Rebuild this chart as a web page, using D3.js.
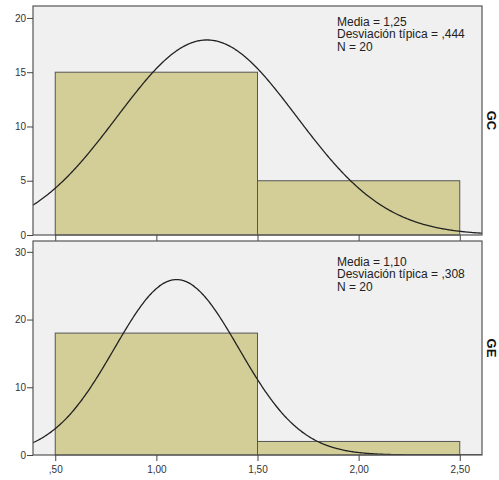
<!DOCTYPE html>
<html>
<head>
<meta charset="utf-8">
<title>Histogramas GC / GE</title>
<script src="https://cdn.jsdelivr.net/npm/d3@7"></script>
<style>
  body { margin: 0; background: #fff; }
  text { font-family: "Liberation Sans", Arial, sans-serif; }
</style>
</head>
<body>
<script>
// bins (lower, upper edges) and counts per group
var binEdges = [[0.5, 1.5], [1.5, 2.5]];
var groups = ["GC", "GE"];
var countsGC = [15, 5];
var countsGE = [18, 2];
var means = [1.25, 1.10];
var sds = [0.444, 0.308];
var ns = [20, 20];
var statLabels = [
  ["Media = 1,25", "Desviación típica = ,444", "N = 20"],
  ["Media = 1,10", "Desviación típica = ,308", "N = 20"]
];
var yTicksGC = [0, 5, 10, 15, 20];
var yTicksGE = [0, 10, 20, 30];
var xTicks = [0.5, 1.0, 1.5, 2.0, 2.5];
var xTickLabels = [",50", "1,00", "1,50", "2,00", "2,50"];

var W = 499, H = 480;
var left = 33, right = 482;
var panels = [
  { top: 6, bottom: 235, ymax: 21.1, counts: countsGC, ticks: yTicksGC, textY: 25.5 },
  { top: 241, bottom: 455, ymax: 31.6, counts: countsGE, ticks: yTicksGE, textY: 265.5 }
];

var svg = d3.select("body").append("svg")
  .attr("width", W).attr("height", H);

var x = d3.scaleLinear().domain([0.39, 2.61]).range([left, right]);

panels.forEach(function(p, i) {
  var y = d3.scaleLinear().domain([0, p.ymax]).range([p.bottom, p.top]);
  var g = svg.append("g");

  g.append("clipPath").attr("id", "clip" + i)
    .append("rect")
    .attr("x", left).attr("y", p.top)
    .attr("width", right - left).attr("height", p.bottom - p.top);

  g.append("rect")
    .attr("x", left).attr("y", p.top)
    .attr("width", right - left).attr("height", p.bottom - p.top)
    .attr("fill", "#f0f0f0");

  g.selectAll("rect.bar")
    .data(p.counts)
    .enter().append("rect")
    .attr("class", "bar")
    .attr("x", function(d, j) { return x(binEdges[j][0]); })
    .attr("y", function(d) { return y(d); })
    .attr("width", function(d, j) { return x(binEdges[j][1]) - x(binEdges[j][0]); })
    .attr("height", function(d) { return y(0) - y(d); })
    .attr("fill", "#d3ce97")
    .attr("stroke", "#555")
    .attr("stroke-width", 1);

  // fitted normal curve, scaled to N
  var xs = d3.range(0.39, 2.615, 0.005);
  var curve = d3.line()
    .x(function(v) { return x(v); })
    .y(function(v) {
      var z = (v - means[i]) / sds[i];
      return y(ns[i] * Math.exp(-0.5 * z * z) / (sds[i] * Math.sqrt(2 * Math.PI)));
    })
    .curve(d3.curveBasis);
  g.append("path")
    .datum(xs)
    .attr("d", curve)
    .attr("fill", "none")
    .attr("stroke", "#222")
    .attr("stroke-width", 1.3)
    .attr("clip-path", "url(#clip" + i + ")");

  g.append("rect")
    .attr("x", left).attr("y", p.top)
    .attr("width", right - left).attr("height", p.bottom - p.top)
    .attr("fill", "none")
    .attr("stroke", "#555")
    .attr("stroke-width", 1.2);

  var yAxis = d3.axisLeft(y).tickValues(p.ticks).tickSize(6).tickPadding(1)
    .tickFormat(d3.format("d"));
  var ya = g.append("g").attr("transform", "translate(" + left + ",0)").call(yAxis);
  ya.select(".domain").remove();
  ya.selectAll("line").attr("stroke", "#444");
  ya.selectAll("text").attr("fill", "#333").style("font-size", "10px");

  var xAxis = d3.axisBottom(x).tickValues(xTicks).tickSize(6)
    .tickFormat(function(d, j) { return i === 1 ? xTickLabels[j] : ""; });
  var xa = g.append("g").attr("transform", "translate(0," + p.bottom + ")").call(xAxis);
  xa.select(".domain").remove();
  xa.selectAll("line").attr("stroke", "#444");
  xa.selectAll("text").attr("fill", "#333").style("font-size", "10px").attr("dy", "0.9em");

  g.append("text")
    .attr("x", 337).attr("y", p.textY)
    .selectAll("tspan")
    .data(statLabels[i])
    .enter().append("tspan")
    .attr("x", 337)
    .attr("dy", function(d, j) { return j === 0 ? 0 : 12.8; })
    .text(function(d) { return d; })
    .style("font-size", "12px")
    .attr("fill", "#222");

  g.append("text")
    .attr("transform", "translate(487," + ((p.top + p.bottom) / 2) + ") rotate(90)")
    .attr("text-anchor", "middle")
    .style("font-size", "13px")
    .style("font-weight", "bold")
    .attr("fill", "#111")
    .text(groups[i]);
});
</script>
</body>
</html>
